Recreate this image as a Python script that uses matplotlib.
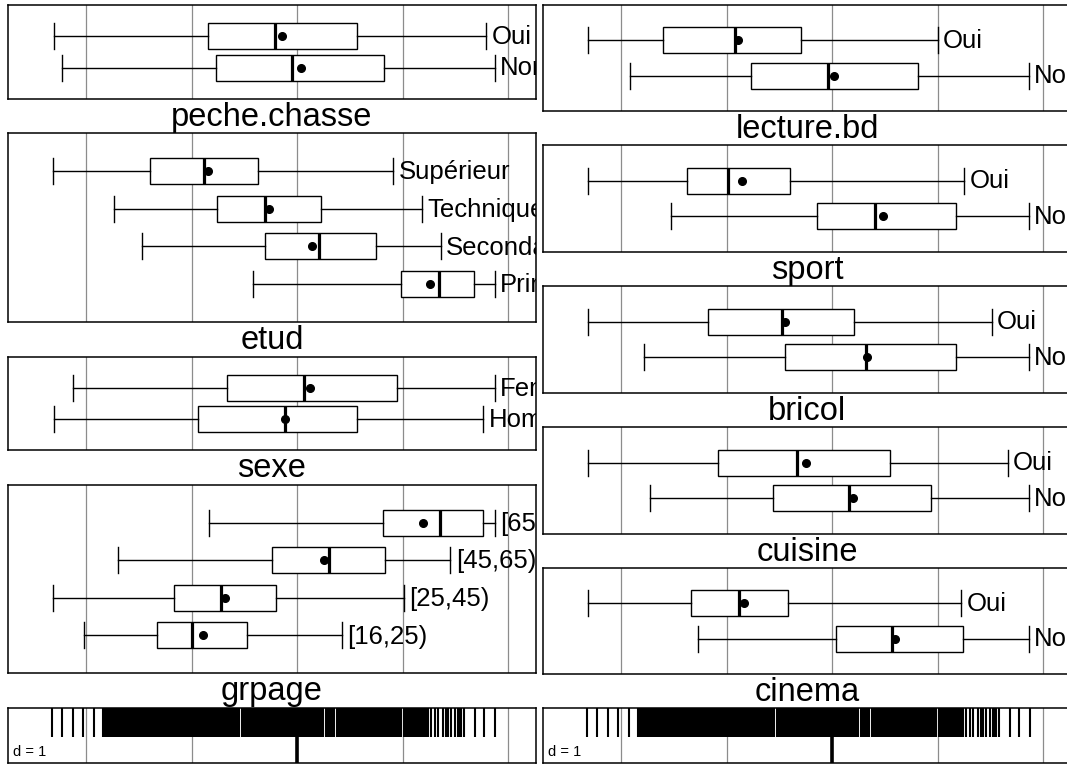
import numpy as np
import matplotlib
matplotlib.use("Agg")
import matplotlib.pyplot as pl

pl.rcParams['font.family'] = ['Liberation Sans', 'DejaVu Sans']

#--------------------------------------------------------------------------------------------
# boxplot stats per level: [whisker low, q1, median, q3, whisker high, mean]

peche_levels = ["Oui", "Non"]
peche_stats = [[-2.31, -0.85, -0.21, 0.565, 1.79, -0.15],
               [-2.23, -0.77, -0.05, 0.82, 1.87, 0.03]]

etud_levels = ["Supérieur", "Technique", "Secondaire", "Primaire"]
etud_stats = [[-2.32, -1.40, -0.89, -0.375, 0.91, -0.85],
              [-1.74, -0.76, -0.31, 0.22, 1.18, -0.27],
              [-1.47, -0.31, 0.20, 0.74, 1.36, 0.14],
              [-0.42, 0.98, 1.34, 1.67, 1.87, 1.26]]

sexe_levels = ["Femme", "Homme"]
sexe_stats = [[-2.13, -0.67, 0.065, 0.94, 1.87, 0.115],
              [-2.31, -0.94, -0.12, 0.56, 1.76, -0.12]]

grpage_levels = ["[65,100]", "[45,65)", "[25,45)", "[16,25)"]
grpage_stats = [[-0.84, 0.81, 1.355, 1.76, 1.87, 1.19],
                [-1.70, -0.245, 0.30, 0.83, 1.45, 0.255],
                [-2.32, -1.175, -0.725, -0.205, 1.01, -0.685],
                [-2.02, -1.33, -1.00, -0.48, 0.42, -0.90]]

lecture_levels = ["Oui", "Non"]
lecture_stats = [[-2.32, -1.605, -0.92, -0.30, 1.00, -0.90],
                 [-1.92, -0.77, -0.045, 0.81, 1.86, 0.013]]

sport_levels = ["Oui", "Non"]
sport_stats = [[-2.32, -1.38, -0.99, -0.40, 1.25, -0.86],
               [-1.53, -0.15, 0.40, 1.17, 1.86, 0.48]]

bricol_levels = ["Oui", "Non"]
bricol_stats = [[-2.32, -1.18, -0.48, 0.20, 1.51, -0.45],
                [-1.79, -0.45, 0.32, 1.17, 1.86, 0.33]]

cuisine_levels = ["Oui", "Non"]
cuisine_stats = [[-2.32, -1.085, -0.335, 0.55, 1.66, -0.25],
                 [-1.725, -0.56, 0.16, 0.93, 1.86, 0.19]]

cinema_levels = ["Oui", "Non"]
cinema_stats = [[-2.32, -1.34, -0.89, -0.425, 1.22, -0.84],
                [-1.27, 0.03, 0.56, 1.24, 1.86, 0.59]]

# individual scores shown in the rug
rug_scores = [-2.33, -2.23, -2.13, -2.03, -1.93, -1.845, -1.83, -1.815, -1.80, -1.785, -1.77,
              -1.76, -1.745, -1.735, -1.72, -1.71, -1.695, -1.685, -1.67, -1.66, -1.65, -1.635,
              -1.62, -1.61, -1.60, -1.585, -1.57, -1.555, -1.54, -1.53, -1.52, -1.505, -1.49,
              -1.48, -1.465, -1.45, -1.435, -1.42, -1.41, -1.395, -1.38, -1.37, -1.355, -1.34,
              -1.33, -1.315, -1.30, -1.285, -1.27, -1.26, -1.245, -1.235, -1.22, -1.205, -1.19,
              -1.18, -1.165, -1.15, -1.14, -1.125, -1.115, -1.10, -1.085, -1.07, -1.06, -1.045,
              -1.03, -1.02, -1.005, -0.995, -0.98, -0.965, -0.95, -0.94, -0.925, -0.91, -0.90,
              -0.885, -0.87, -0.86, -0.845, -0.83, -0.82, -0.805, -0.79, -0.78, -0.765, -0.75,
              -0.74, -0.725, -0.71, -0.69, -0.675, -0.66, -0.645, -0.63, -0.62, -0.60, -0.58,
              -0.565, -0.55, -0.53, -0.515, -0.50, -0.485, -0.47, -0.45, -0.44, -0.42, -0.405,
              -0.39, -0.375, -0.36, -0.35, -0.335, -0.32, -0.31, -0.295, -0.28, -0.27, -0.255,
              -0.24, -0.23, -0.215, -0.20, -0.19, -0.175, -0.16, -0.15, -0.135, -0.12, -0.11,
              -0.095, -0.08, -0.07, -0.055, -0.04, -0.03, -0.015, 0.0, 0.01, 0.025, 0.04, 0.05,
              0.065, 0.08, 0.09, 0.105, 0.12, 0.13, 0.145, 0.16, 0.17, 0.185, 0.20, 0.21, 0.225,
              0.24, 0.27, 0.29, 0.30, 0.32, 0.34, 0.35, 0.37, 0.38, 0.40, 0.42, 0.43, 0.45, 0.46,
              0.48, 0.49, 0.51, 0.52, 0.53, 0.55, 0.56, 0.57, 0.59, 0.60, 0.61, 0.63, 0.64, 0.66,
              0.67, 0.68, 0.70, 0.71, 0.73, 0.745, 0.76, 0.775, 0.79, 0.81, 0.825, 0.84, 0.855,
              0.87, 0.885, 0.90, 0.915, 0.93, 0.95, 0.97, 0.985, 1.01, 1.03, 1.05, 1.07, 1.09,
              1.105, 1.12, 1.14, 1.16, 1.18, 1.20, 1.22, 1.235, 1.27, 1.30, 1.33, 1.38, 1.41,
              1.425, 1.457, 1.49, 1.52, 1.536, 1.55, 1.58, 1.68, 1.77, 1.87]

#--------------------------------------------------------------------------------------------

W, H = 1067, 765
xlims = (-2.744, 2.261)
gridcol = '#8c8c8c'

fig = pl.figure(figsize=(W/100., H/100.), dpi=100)

def add_panel(x0, y0, x1, y1):
    ax = fig.add_axes([x0/W, 1. - y1/H, (x1 - x0)/W, (y1 - y0)/H])
    ax.set_xlim(xlims)
    ax.set_xticks([-2, -1, 0, 1, 2])
    ax.set_yticks([])
    ax.tick_params(length=0, labelbottom=False)
    ax.grid(axis='x', color=gridcol, lw=0.9)
    ax.set_axisbelow(True)
    for s in ax.spines.values():
        s.set_linewidth(1.1)
    return ax

def box_panel(x0, y0, x1, y1, levels, stats, title):
    ax = add_panel(x0, y0, x1, y1)
    n = len(levels)
    ax.set_ylim(n + 1, 0)
    bh = 26. * (n + 1) / (y1 - y0)   # box height ~26 px
    bstats = []
    for s in stats:
        bstats.append(dict(whislo=s[0], q1=s[1], med=s[2], q3=s[3], whishi=s[4], mean=s[5], fliers=[]))
    pos = np.arange(1, n + 1)
    ax.bxp(bstats, positions=pos, widths=bh, capwidths=bh, orientation='horizontal',
           showmeans=True, showfliers=False, manage_ticks=False, patch_artist=True,
           boxprops=dict(facecolor='white', edgecolor='black', lw=1.0),
           whiskerprops=dict(color='black', lw=1.0),
           capprops=dict(color='black', lw=1.0),
           medianprops=dict(color='black', lw=2.3),
           meanprops=dict(marker='o', markerfacecolor='black', markeredgecolor='black', markersize=5.5))
    for j in range(n):
        ax.text(stats[j][4] + 0.05, pos[j] + 0.02 * (n + 1) / 3., levels[j], ha='left', va='center',
                fontsize=18.5, clip_on=True)
    fig.text((x0 + x1)/2./W, 1. - (y1 + 27.)/H, title, ha='center', va='baseline', fontsize=23.5)
    return ax

def rug_panel(x0, y0, x1, y1):
    ax = add_panel(x0, y0, x1, y1)
    ax.set_ylim(0, 1)
    ax.vlines(rug_scores, 0.47, 1., color='black', lw=1.5)
    ax.axvline(0., color='black', lw=2.6)
    ax.text(5./(x1 - x0), 0.13, "d = 1", transform=ax.transAxes, ha='left', va='baseline', fontsize=10.5)
    return ax

#--------------------------------------------------------------------------------------------
# left column
lx0, lx1 = 8, 536
box_panel(lx0, 5, lx1, 99, peche_levels, peche_stats, "peche.chasse")
box_panel(lx0, 133, lx1, 322, etud_levels, etud_stats, "etud")
box_panel(lx0, 357, lx1, 450, sexe_levels, sexe_stats, "sexe")
box_panel(lx0, 485, lx1, 673, grpage_levels, grpage_stats, "grpage")
rug_panel(lx0, 708, lx1, 763)

# right column
rx0, rx1 = 543, 1071
box_panel(rx0, 5, rx1, 111, lecture_levels, lecture_stats, "lecture.bd")
box_panel(rx0, 145, rx1, 252, sport_levels, sport_stats, "sport")
box_panel(rx0, 286, rx1, 393, bricol_levels, bricol_stats, "bricol")
box_panel(rx0, 427, rx1, 534, cuisine_levels, cuisine_stats, "cuisine")
box_panel(rx0, 568, rx1, 674, cinema_levels, cinema_stats, "cinema")
rug_panel(rx0, 708, rx1, 763)

#--------------------------------------------------------------------------------------------

fig.savefig('out.png', dpi=100)
